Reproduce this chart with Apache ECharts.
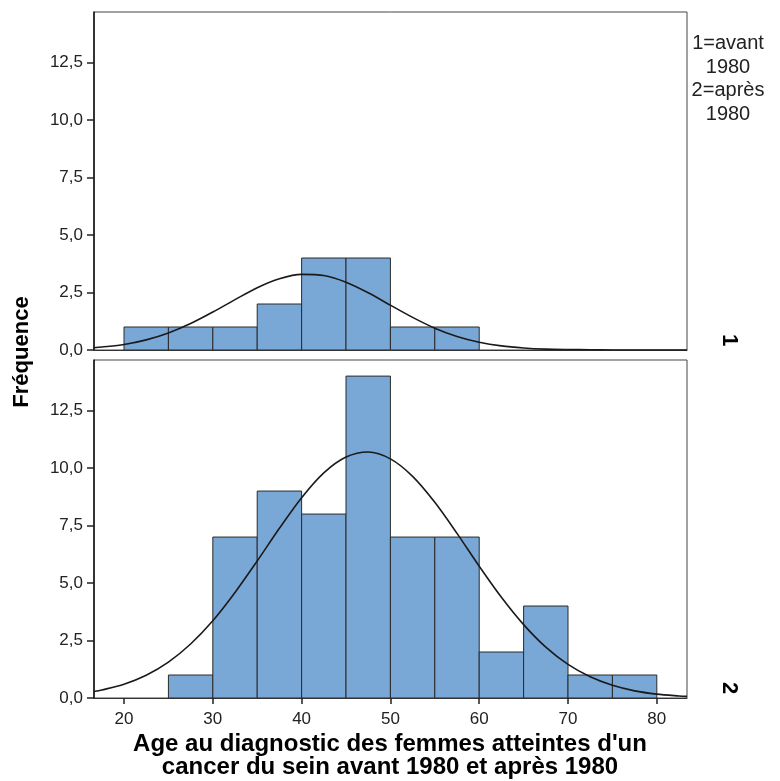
<!DOCTYPE html>
<html>
<head>
<meta charset="utf-8">
<script src="https://cdn.jsdelivr.net/npm/echarts@6/dist/echarts.min.js"></script>
<style>html,body{margin:0;padding:0;background:#fff}#c{width:780px;height:781px}</style>
</head>
<body>
<div id="c"></div>
<script>
// Bin edges (5-year bins) and counts per panel
const binStarts = [20,25,30,35,40,45,50,55,60,65,70,75];
const binWidth = 5;
const countsAvant = [1,1,1,2,4,4,1,1,0,0,0,0];
const countsApres = [0,1,7,9,8,14,7,7,2,4,1,1];
// Normal curve
const curveX = [16.6,17.5,20,22.5,25,27.5,30,32.5,35,37.5,40,42.5,45,47.5,50,52.5,55,57.5,60,62.5,65,67.5,70,72.5,75,77.5,80,82.5,83.4];
const curveAvant = [0.10,0.13,0.24,0.44,0.74,1.15,1.65,2.19,2.71,3.10,3.29,3.24,2.95,2.49,1.95,1.42,0.95,0.59,0.34,0.18,0.09,0.04,0.02,0.01,0.003,0.001,0,0,0];
const curveApres = [0.28,0.35,0.60,0.99,1.56,2.35,3.36,4.59,5.96,7.38,8.71,9.79,10.48,10.70,10.40,9.64,8.51,7.16,5.73,4.38,3.19,2.21,1.46,0.92,0.55,0.31,0.17,0.09,0.07];
const xTicks = [20,30,40,50,60,70,80];
const yTicks = [0,2.5,5,7.5,10,12.5];

const FONT = '"Liberation Sans", Arial, sans-serif';
const chart = echarts.init(document.getElementById('c'), null, {renderer:'canvas'});

function histData(counts){
  const out = [];
  binStarts.forEach((s,i)=>{ if(counts[i]>0) out.push([s, s+binWidth, counts[i]]); });
  return out;
}
function renderBar(params, api){
  const p0 = api.coord([api.value(0), api.value(2)]);
  const p1 = api.coord([api.value(1), 0]);
  return {type:'rect', shape:{x:p0[0], y:p0[1], width:p1[0]-p0[0], height:p1[1]-p0[1]},
    style:{fill:'#79a7d6', stroke:'#2a2a2a', lineWidth:1}};
}
function xAxis(idx, showLabels){
  return {type:'value', gridIndex:idx, min:16.62, max:83.4,
    axisLine:{show:true, lineStyle:{color:'#333', width:1}},
    axisTick:{show:showLabels, customValues:xTicks, length:6, lineStyle:{color:'#222', width:1.5}},
    axisLabel:{show:showLabels, customValues:xTicks, color:'#222', fontSize:17, fontFamily:FONT, margin:13},
    splitLine:{show:false}};
}
function yAxis(idx){
  return {type:'value', gridIndex:idx, min:0, max:14.7,
    axisLine:{show:true, lineStyle:{color:'#111', width:1.5}},
    axisTick:{show:true, customValues:yTicks, length:7, lineStyle:{color:'#222', width:1.5}},
    axisLabel:{customValues:yTicks, color:'#222', fontSize:17, fontFamily:FONT, margin:11,
      formatter:v=>v.toFixed(1).replace('.',',')},
    splitLine:{show:false}};
}
const toPairs = ys => curveX.map((x,i)=>[x, ys[i]]);

chart.setOption({
  animation:false,
  grid:[
    {left:94, top:12, width:593, height:338, show:true, borderColor:'#444', borderWidth:1, backgroundColor:'#fff'},
    {left:94, top:360, width:593, height:338, show:true, borderColor:'#444', borderWidth:1, backgroundColor:'#fff'}
  ],
  xAxis:[xAxis(0,false), xAxis(1,true)],
  yAxis:[yAxis(0), yAxis(1)],
  series:[
    {type:'custom', xAxisIndex:0, yAxisIndex:0, renderItem:renderBar, data:histData(countsAvant), clip:true},
    {type:'custom', xAxisIndex:1, yAxisIndex:1, renderItem:renderBar, data:histData(countsApres), clip:true},
    {type:'line', xAxisIndex:0, yAxisIndex:0, data:toPairs(curveAvant), smooth:0.3, showSymbol:false, symbol:'none', clip:true,
      lineStyle:{color:'#1a1a1a', width:1.6}, z:5},
    {type:'line', xAxisIndex:1, yAxisIndex:1, data:toPairs(curveApres), smooth:0.3, showSymbol:false, symbol:'none', clip:true,
      lineStyle:{color:'#1a1a1a', width:1.6}, z:5}
  ],
  graphic:[
    {type:'text', x:22, y:352, rotation:Math.PI/2,
      style:{text:'Fréquence', font:'bold 22px ' + FONT, fill:'#000', align:'center', verticalAlign:'middle'}},
    {type:'text', x:390, y:733,
      style:{text:'Age au diagnostic des femmes atteintes d\'un\ncancer du sein avant 1980 et après 1980',
        font:'bold 24px ' + FONT, lineHeight:23, fill:'#000', align:'center', verticalAlign:'top'}},
    {type:'text', x:728, y:32,
      style:{text:'1=avant\n1980\n2=après\n1980', font:'20px ' + FONT, lineHeight:23.5, fill:'#222', align:'center', verticalAlign:'top'}},
    {type:'text', x:729, y:340, rotation:-Math.PI/2,
      style:{text:'1', font:'bold 22px ' + FONT, fill:'#000', align:'center', verticalAlign:'middle'}},
    {type:'text', x:729, y:688, rotation:-Math.PI/2,
      style:{text:'2', font:'bold 22px ' + FONT, fill:'#000', align:'center', verticalAlign:'middle'}}
  ]
});
</script>
</body>
</html>
